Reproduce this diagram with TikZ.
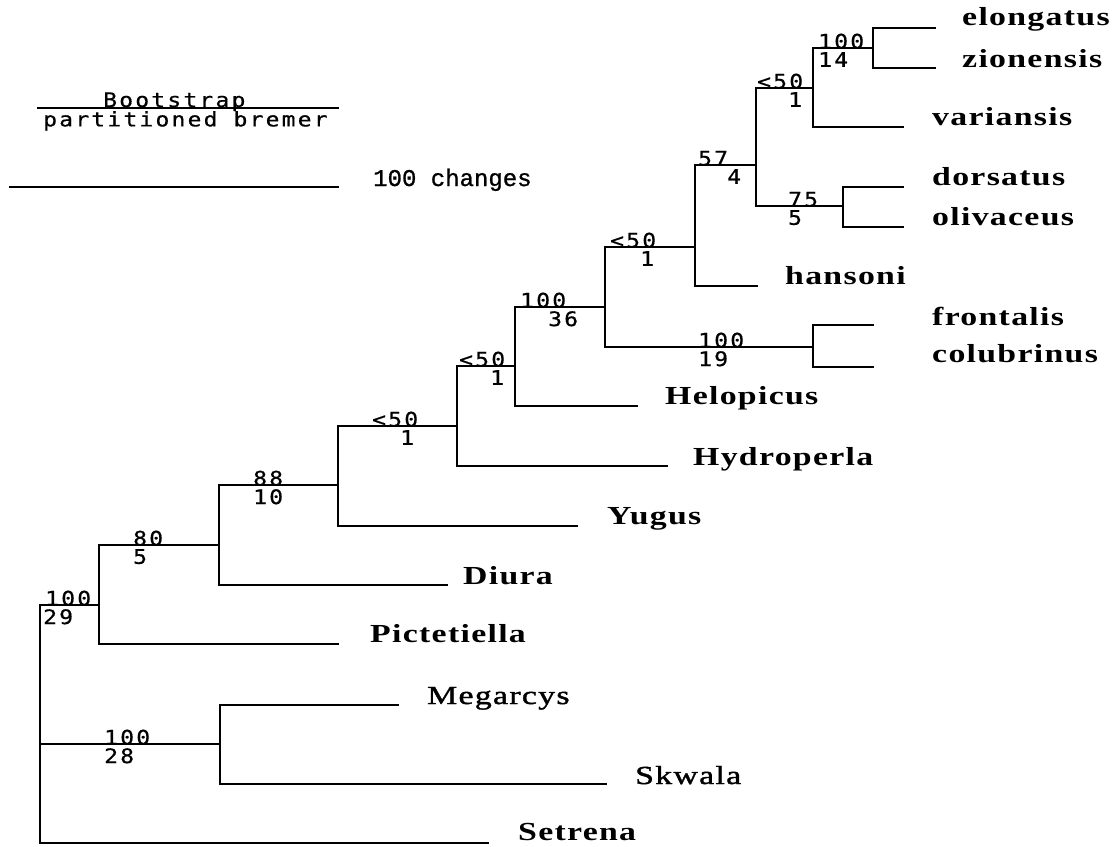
\documentclass[tikz,border=0pt]{standalone}
\usepackage{fontspec}
\newfontfamily\taxfont[FakeStretch=1.3,LetterSpace=5]{Liberation Serif}
\newfontfamily\taxmed[FakeStretch=1.3,LetterSpace=5,FakeBold=1.5]{Liberation Serif}
\newfontfamily\numfont[FakeStretch=1.15,LetterSpace=11,FakeBold=0.6]{DejaVu Sans Mono}
\newfontfamily\scalefont[FakeBold=1]{Liberation Mono}
\begin{document}
\begin{tikzpicture}[x=1pt,y=-1pt,
  br/.style={line width=1.6pt, line cap=rect},
  tax/.style={anchor=base west, inner sep=0pt, font=\taxfont\bfseries\fontsize{26}{28}\selectfont},
  taxr/.style={anchor=base west, inner sep=0pt, font=\taxmed\fontsize{26}{28}\selectfont},
  bs/.style={anchor=base west, inner sep=0pt, font=\numfont\fontsize{20}{22}\selectfont},
  bm/.style={anchor=north west, inner sep=0pt, font=\numfont\fontsize{20}{22}\selectfont}]
\useasboundingbox[fill=white] (0,0) rectangle (1118,846);
% internal nodes (x of vertical, y of incoming branch)
\coordinate (root) at (40,744);
\coordinate (A) at (99,605);
\coordinate (B) at (219,545);
\coordinate (C) at (338,485);
\coordinate (D) at (457,426);
\coordinate (E) at (515,366);
\coordinate (F) at (605,307);
\coordinate (G) at (695,247);
\coordinate (H) at (813,347);
\coordinate (I) at (756,165);
\coordinate (J) at (813,88);
\coordinate (K) at (843,206);
\coordinate (L) at (873,48);
\coordinate (M) at (220,744);
% tips
\coordinate (tElo) at (935,28);
\coordinate (tZio) at (935,68);
\coordinate (tVar) at (903,127);
\coordinate (tDor) at (903,187);
\coordinate (tOli) at (903,227);
\coordinate (tHan) at (757,286);
\coordinate (tFro) at (873,325);
\coordinate (tCol) at (873,367);
\coordinate (tHel) at (637,406);
\coordinate (tHyd) at (667,466);
\coordinate (tYug) at (577,526);
\coordinate (tDiu) at (447,585);
\coordinate (tPic) at (338,644);
\coordinate (tMeg) at (398,705);
\coordinate (tSkw) at (606,784);
\coordinate (tSet) at (488,843);
% branches
\draw[br] (root) |- (A);
\draw[br] (root) |- (M);
\draw[br] (root) |- (tSet);
\draw[br] (A) |- (B);
\draw[br] (A) |- (tPic);
\draw[br] (B) |- (C);
\draw[br] (B) |- (tDiu);
\draw[br] (C) |- (D);
\draw[br] (C) |- (tYug);
\draw[br] (D) |- (E);
\draw[br] (D) |- (tHyd);
\draw[br] (E) |- (F);
\draw[br] (E) |- (tHel);
\draw[br] (F) |- (G);
\draw[br] (F) |- (H);
\draw[br] (H) |- (tFro);
\draw[br] (H) |- (tCol);
\draw[br] (G) |- (I);
\draw[br] (G) |- (tHan);
\draw[br] (I) |- (J);
\draw[br] (I) |- (K);
\draw[br] (J) |- (L);
\draw[br] (J) |- (tVar);
\draw[br] (L) |- (tElo);
\draw[br] (L) |- (tZio);
\draw[br] (K) |- (tDor);
\draw[br] (K) |- (tOli);
\draw[br] (M) |- (tMeg);
\draw[br] (M) |- (tSkw);
% taxa
\node[tax] (nElo) at (962,25) {elongatus};
\node[tax] (nZio) at (962,67) {zionensis};
\node[tax] (nVar) at (932,125) {variansis};
\node[tax] (nDor) at (932,185) {dorsatus};
\node[tax] (nOli) at (932,225) {olivaceus};
\node[tax] (nHan) at (785,284) {hansoni};
\node[tax] (nFro) at (932,325) {frontalis};
\node[tax] (nCol) at (932,362) {colubrinus};
\node[tax] (nHel) at (665,404) {Helopicus};
\node[tax] (nHyd) at (693,465) {Hydroperla};
\node[tax] (nYug) at (607,524) {Yugus};
\node[tax] (nDiu) at (463,584) {Diura};
\node[tax] (nPic) at (370,642) {Pictetiella};
\node[taxr] (nMeg) at (427,704) {Megarcys};
\node[taxr] (nSkw) at (635,784) {Skwala};
\node[tax] (nSet) at (518,840) {Setrena};
% support labels
\node[bs] (bA) at (45,605.5) {100};   \node[bm] (mA) at (43,609) {29};
\node[bs] (bB) at (133,545.5) {80};   \node[bm] (mB) at (133,549) {5};
\node[bs] (bC) at (253,485.5) {88};   \node[bm] (mC) at (253,489) {10};
\node[bs] (bD) at (372,426.5) {<50};  \node[bm] (mD) at (400,430) {1};
\node[bs] (bE) at (459,366.5) {<50};  \node[bm] (mE) at (490,370) {1};
\node[bs] (bF) at (520,307.5) {100};  \node[bm] (mF) at (548,311) {36};
\node[bs] (bG) at (610,247.5) {<50};  \node[bm] (mG) at (640,251) {1};
\node[bs] (bH) at (698,347.5) {100};  \node[bm] (mH) at (698,351) {19};
\node[bs] (bI) at (698,165.5) {57};   \node[bm] (mI) at (727,169) {4};
\node[bs] (bJ) at (757,88.5) {<50};   \node[bm] (mJ) at (788,92) {1};
\node[bs] (bK) at (788,206.5) {75};   \node[bm] (mK) at (788,210) {5};
\node[bs] (bL) at (818,48.5) {100};   \node[bm] (mL) at (818,52) {14};
\node[bs] (bM) at (104,744.5) {100};  \node[bm] (mM) at (104,748) {28};
% legend
\coordinate (lg1) at (38,108);
\coordinate (lg2) at (338,108);
\draw[br] (lg1) -- (lg2);
\node[bs] (lgB) at (103,107) {Bootstrap};
\node[bm] (lgP) at (43,111) {partitioned bremer};
\coordinate (sc1) at (10,187);
\coordinate (sc2) at (338,187);
\draw[br] (sc1) -- (sc2);
\node[anchor=base west, inner sep=0pt, font=\scalefont\fontsize{24}{26}\selectfont] (scl) at (373,186) {100 changes};
\end{tikzpicture}
\end{document}
